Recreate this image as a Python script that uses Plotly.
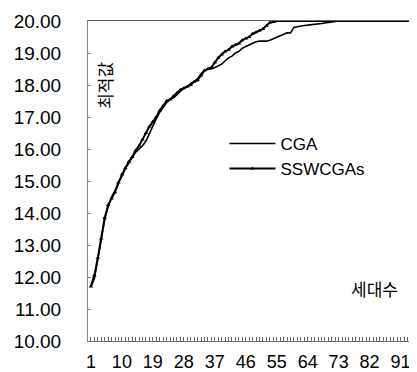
import plotly.graph_objects as go

generations = list(range(1, 101))

cga = [11.70, 11.95, 12.55, 13.15, 13.80, 14.20, 14.50, 14.70, 14.95, 15.15,
       15.40, 15.55, 15.75, 15.90, 16.00, 16.10, 16.25, 16.50, 16.75, 16.95,
       17.15, 17.30, 17.45, 17.55, 17.60, 17.70, 17.80, 17.90, 17.95, 18.05,
       18.10, 18.20, 18.35, 18.45, 18.50, 18.50, 18.55, 18.60, 18.65, 18.75,
       18.85, 18.90, 19.00, 19.05, 19.15, 19.20, 19.25, 19.30, 19.35, 19.37,
       19.37, 19.37, 19.40, 19.45, 19.50, 19.55, 19.60, 19.63, 19.63, 19.80,
       19.82, 19.85, 19.86, 19.87, 19.88, 19.88, 19.90, 19.92, 19.94, 19.96,
       19.98, 19.99] + [20.00] * 28

sswcgas = [11.70, 12.05, 12.60, 13.20, 13.85, 14.25, 14.45, 14.65, 14.95, 15.20,
           15.40, 15.60, 15.75, 15.95, 16.10, 16.30, 16.50, 16.70, 16.85, 17.00,
           17.20, 17.35, 17.50, 17.55, 17.65, 17.75, 17.85, 17.90, 17.95, 18.00,
           18.10, 18.15, 18.30, 18.45, 18.50, 18.55, 18.70, 18.85, 18.95, 19.05,
           19.10, 19.20, 19.25, 19.30, 19.40, 19.45, 19.50, 19.60, 19.65, 19.70,
           19.75, 19.85, 19.95, 19.97] + [20.00] * 46

x_tick_vals = [1, 10, 19, 28, 37, 46, 55, 64, 73, 82, 91]
y_tick_vals = [10, 11, 12, 13, 14, 15, 16, 17, 18, 19, 20]

FONT = "Liberation Sans, Arial, sans-serif"
KFONT = "Noto Sans CJK KR, sans-serif"

fig = go.Figure()
fig.add_trace(go.Scatter(
    x=generations, y=cga, name="CGA", mode="lines",
    line=dict(color="black", width=1.6),
))
fig.add_trace(go.Scatter(
    x=generations, y=sswcgas, name="SSWCGAs", mode="lines+markers",
    line=dict(color="black", width=2),
    marker=dict(symbol="triangle-up", size=4, color="black"),
))

fig.update_layout(
    width=417, height=372,
    margin=dict(l=80, r=0, t=13, b=39),
    paper_bgcolor="white", plot_bgcolor="white",
    font=dict(family=FONT, size=17, color="black"),
    showlegend=True,
    legend=dict(x=0.405, y=0.672, xanchor="left", yanchor="top",
                font=dict(family=FONT, size=17, color="black"),
                bgcolor="rgba(0,0,0,0)", itemwidth=46, tracegroupgap=0),
    xaxis=dict(
        range=[0.15, 98.1], showgrid=False, zeroline=False,
        showline=True, linecolor="#666", linewidth=1, mirror=True,
        tickmode="array", tickvals=x_tick_vals, ticktext=[str(v) for v in x_tick_vals],
        ticks="inside", ticklen=4, tickcolor="#666", ticklabelstandoff=4,
        minor=dict(ticks="inside", ticklen=4, tickcolor="#666", tickwidth=1,
                   tickmode="linear", dtick=1, tick0=1, showgrid=False),
        tickfont=dict(family=FONT, size=18, color="black"),
    ),
    yaxis=dict(
        range=[10, 20], showgrid=False, zeroline=False,
        showline=True, linecolor="#888", linewidth=1,
        tickmode="array", tickvals=y_tick_vals,
        ticktext=[f"{v:.2f}" for v in y_tick_vals],
        ticks="inside", ticklen=3, tickcolor="#888", ticklabelstandoff=22,
        tickfont=dict(family=FONT, size=19, color="black"),
    ),
    annotations=[
        dict(text="최적값", textangle=-90, x=0.05, y=0.8, xref="paper", yref="paper",
             xanchor="center", yanchor="middle",
             showarrow=False, font=dict(family=KFONT, size=17, color="black")),
        dict(text="세대수", x=0.85, y=0.165, xref="paper", yref="paper",
             xanchor="center", yanchor="middle",
             showarrow=False, font=dict(family=KFONT, size=17, color="black")),
    ],
)

fig.write_html("out.html")
